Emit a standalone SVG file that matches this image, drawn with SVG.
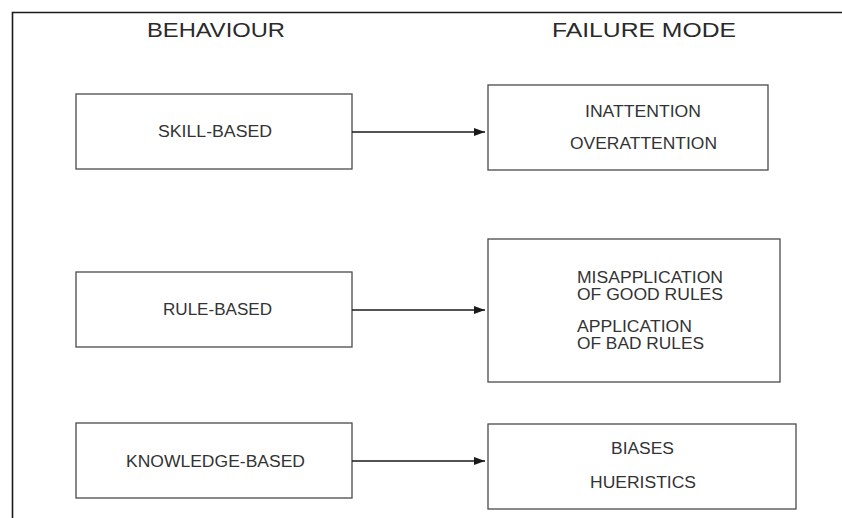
<svg xmlns="http://www.w3.org/2000/svg" width="842" height="518" viewBox="0 0 842 518">
  <defs>
    <style>
      .frame { fill: none; stroke: #1a1a1a; stroke-width: 1.6; }
      .box { fill: #ffffff; stroke: #4a4a4a; stroke-width: 1.3; }
      .head { font-family: "Liberation Sans", Arial, sans-serif; font-size: 21px; fill: #2a2a2a; }
      .lbl { font-family: "Liberation Sans", Arial, sans-serif; font-size: 16px; fill: #333333; }
      .conn { stroke: #1a1a1a; stroke-width: 1.4; fill: none; }
    </style>
    <marker id="arrow" markerWidth="11" markerHeight="8" refX="11" refY="4" orient="auto" markerUnits="userSpaceOnUse">
      <path d="M0,0 L11,4 L0,8 Z" fill="#1a1a1a"/>
    </marker>
  </defs>

  <rect width="842" height="518" fill="#ffffff"/>

  <!-- page frame (top and left edges) -->
  <path class="frame" d="M842,12.5 H12.5 V518"/>

  <!-- column headings -->
  <text class="head" x="147" y="37" textLength="138" lengthAdjust="spacingAndGlyphs">BEHAVIOUR</text>
  <text class="head" x="552" y="37" textLength="184" lengthAdjust="spacingAndGlyphs">FAILURE MODE</text>

  <!-- behaviour nodes -->
  <g id="skill-based">
    <rect class="box" x="76" y="94" width="276" height="75"/>
    <text class="lbl" x="158" y="137" textLength="114" lengthAdjust="spacingAndGlyphs">SKILL-BASED</text>
  </g>
  <g id="rule-based">
    <rect class="box" x="76" y="272" width="276" height="75"/>
    <text class="lbl" x="163" y="315" textLength="109" lengthAdjust="spacingAndGlyphs">RULE-BASED</text>
  </g>
  <g id="knowledge-based">
    <rect class="box" x="76" y="423" width="276" height="75"/>
    <text class="lbl" x="126" y="467" textLength="179" lengthAdjust="spacingAndGlyphs">KNOWLEDGE-BASED</text>
  </g>

  <!-- failure mode nodes -->
  <g id="attention-failures">
    <rect class="box" x="488" y="85" width="280" height="85"/>
    <text class="lbl" x="585" y="117" textLength="116" lengthAdjust="spacingAndGlyphs">INATTENTION</text>
    <text class="lbl" x="570" y="149" textLength="147" lengthAdjust="spacingAndGlyphs">OVERATTENTION</text>
  </g>
  <g id="rule-failures">
    <rect class="box" x="488" y="239" width="292" height="143"/>
    <text class="lbl" x="577" y="283" textLength="146" lengthAdjust="spacingAndGlyphs">MISAPPLICATION</text>
    <text class="lbl" x="577" y="300" textLength="146" lengthAdjust="spacingAndGlyphs">OF GOOD RULES</text>
    <text class="lbl" x="577" y="332" textLength="115" lengthAdjust="spacingAndGlyphs">APPLICATION</text>
    <text class="lbl" x="577" y="349" textLength="127" lengthAdjust="spacingAndGlyphs">OF BAD RULES</text>
  </g>
  <g id="knowledge-failures">
    <rect class="box" x="488" y="424" width="308" height="85"/>
    <text class="lbl" x="611" y="454" textLength="63" lengthAdjust="spacingAndGlyphs">BIASES</text>
    <text class="lbl" x="590" y="488" textLength="106" lengthAdjust="spacingAndGlyphs">HUERISTICS</text>
  </g>

  <!-- connectors -->
  <g id="connectors">
    <line class="conn" x1="352" y1="132" x2="485" y2="132" marker-end="url(#arrow)"/>
    <line class="conn" x1="352" y1="310" x2="485" y2="310" marker-end="url(#arrow)"/>
    <line class="conn" x1="352" y1="461" x2="485" y2="461" marker-end="url(#arrow)"/>
  </g>
</svg>
